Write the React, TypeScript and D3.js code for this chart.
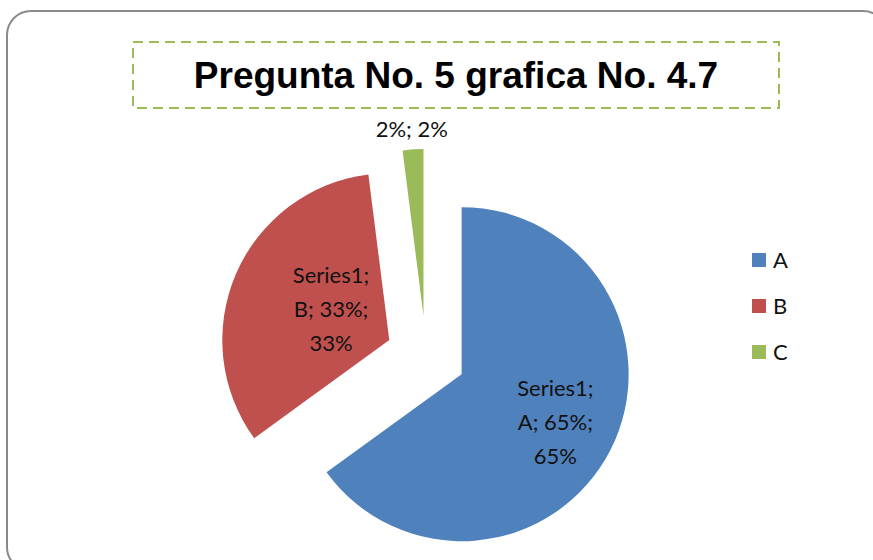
import React, { useRef, useEffect } from 'react';
import * as d3 from 'd3';

const categories = ['A', 'B', 'C'];
const values = [65, 33, 2];
const colors = ['#4F81BD', '#C0504D', '#9BBB59'];
const seriesName = 'Series1';
const title = 'Pregunta No. 5 grafica No. 4.7';

const App = () => {
  const ref = useRef<SVGSVGElement>(null);

  useEffect(() => {
    const svg = d3.select(ref.current);
    svg.selectAll('*').remove();

    // outer chart frame
    svg.append('rect')
      .attr('x', 7).attr('y', 11)
      .attr('width', 880).attr('height', 560)
      .attr('rx', 24)
      .attr('fill', '#fff')
      .attr('stroke', '#8a8a8a')
      .attr('stroke-width', 2);

    // title box
    svg.append('rect')
      .attr('x', 133).attr('y', 42)
      .attr('width', 646).attr('height', 66)
      .attr('fill', 'none')
      .attr('stroke', '#9BBB59')
      .attr('stroke-width', 2)
      .attr('stroke-dasharray', '10,6');

    svg.append('text')
      .attr('x', 456).attr('y', 88)
      .attr('text-anchor', 'middle')
      .attr('font-family', 'Liberation Sans, Arial, sans-serif')
      .attr('font-weight', 'bold')
      .attr('font-size', 37)
      .attr('fill', '#000')
      .text(title);

    const cx = 426, cy = 356, r = 167, explode = 40;
    const total = d3.sum(values);
    const data = categories.map((c, i) => ({ cat: c, value: values[i] }));
    const pie = d3.pie<any>().value(d => d.value).sort(null);
    const arcs = pie(data);
    const arc = d3.arc<any>().innerRadius(0).outerRadius(r);
    const labelFrac = [0.63, 0.38, 1.12];

    const g = svg.append('g').attr('transform', `translate(${cx},${cy})`);
    const font = 'Lato, Open Sans, sans-serif';

    arcs.forEach((a, i) => {
      const mid = (a.startAngle + a.endAngle) / 2;
      const dx = Math.sin(mid) * explode;
      const dy = -Math.cos(mid) * explode;
      const sg = g.append('g').attr('transform', `translate(${dx},${dy})`);
      sg.append('path')
        .attr('d', arc(a) as string)
        .attr('fill', colors[i]);

      const pct = Math.round((a.data.value / total) * 100) + '%';
      const lr = r * labelFrac[i];
      const lx = Math.sin(mid) * lr;
      const ly = -Math.cos(mid) * lr;
      const lines = i === 2
        ? [`${pct}; ${pct}`]
        : [`${seriesName};`, `${a.data.cat}; ${pct};`, pct];
      const lh = 34;
      const t = sg.append('text')
        .attr('text-anchor', 'middle')
        .attr('font-family', font)
        .attr('font-size', 22)
        .attr('fill', '#111');
      lines.forEach((l, k) => {
        t.append('tspan')
          .attr('x', lx)
          .attr('y', ly + (k - (lines.length - 1) / 2) * lh + (i === 1 ? 2 : 8))
          .text(l);
      });
    });

    // legend
    const legend = svg.append('g').attr('transform', 'translate(752,253)');
    categories.forEach((c, i) => {
      const row = legend.append('g').attr('transform', `translate(0,${i * 46})`);
      row.append('rect').attr('width', 14).attr('height', 14).attr('fill', colors[i]);
      row.append('text')
        .attr('x', 21).attr('y', 15)
        .attr('font-family', font)
        .attr('font-size', 22)
        .attr('fill', '#111')
        .text(c);
    });
  }, []);

  return (
    <svg ref={ref} width={873} height={560}
      style={{ position: 'absolute', left: 0, top: 0, background: '#fff' }} />
  );
};

export default App;
